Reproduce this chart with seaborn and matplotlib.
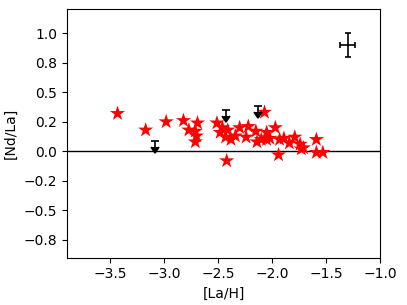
import numpy as np
import pandas as pd
import matplotlib
matplotlib.use('Agg')
import matplotlib.pyplot as plt
import seaborn as sns
from matplotlib.ticker import MultipleLocator, FuncFormatter

# Estrelas: [La/H] e [Nd/La]
la_h = [-3.43, -3.17, -2.98, -2.82, -2.77, -2.69, -2.71, -2.70, -2.71,
        -2.51, -2.46, -2.48, -2.43, -2.41, -2.38, -2.34, -2.42, -2.30,
        -2.22, -2.24, -2.15, -2.14, -2.10, -2.07, -2.05, -2.02, -2.05,
        -1.97, -1.93, -1.94, -1.89, -1.84, -1.79, -1.74, -1.71, -1.73,
        -1.59, -1.59, -1.53]
nd_la = [0.32, 0.18, 0.25, 0.26, 0.18, 0.24, 0.17, 0.13, 0.08,
         0.24, 0.20, 0.16, 0.12, 0.18, 0.10, 0.13, -0.08, 0.20,
         0.21, 0.12, 0.17, 0.08, 0.10, 0.33, 0.16, 0.11, 0.10,
         0.20, 0.10, -0.03, 0.11, 0.07, 0.12, 0.06, 0.03, 0.02,
         0.10, -0.01, -0.01]

# Limites superiores
lim_la_h = [-3.08, -2.43, -2.13]
lim_nd_la = [0.09, 0.35, 0.38]
lim_err = 0.05

# Erro típico
err_x, err_y = -1.30, 0.90
err_dx, err_dy = 0.07, 0.10

df = pd.DataFrame({'[La/H]': la_h, '[Nd/La]': nd_la})

fig = plt.figure(figsize=(4.07, 3.05), dpi=100)
ax = fig.add_axes([0.164, 0.155, 0.770, 0.814])

ax.axhline(0, color='k', lw=1, zorder=1)
sns.scatterplot(data=df, x='[La/H]', y='[Nd/La]', marker='*', color='red',
                s=130, edgecolor='none', ax=ax, zorder=3)
ax.errorbar(lim_la_h, lim_nd_la, yerr=lim_err, uplims=True, fmt='none',
            color='k', ecolor='k', capsize=3, elinewidth=1.2, capthick=1.2, zorder=4)
ax.errorbar([err_x], [err_y], xerr=err_dx, yerr=err_dy, fmt='none',
            color='k', ecolor='k', capsize=2, elinewidth=1.2, capthick=1.2)

ax.set_xlim(-3.9, -1.0)
ax.set_ylim(-0.9, 1.2)
ax.xaxis.set_major_locator(MultipleLocator(0.5))
ax.yaxis.set_major_locator(MultipleLocator(0.25))
ax.yaxis.set_major_formatter(FuncFormatter(lambda v, p: f"{v:.1f}".replace('-', '\u2212')))
ax.set_xlabel('[La/H]')
ax.set_ylabel('[Nd/La]')

fig.savefig('out.png', dpi=100)
